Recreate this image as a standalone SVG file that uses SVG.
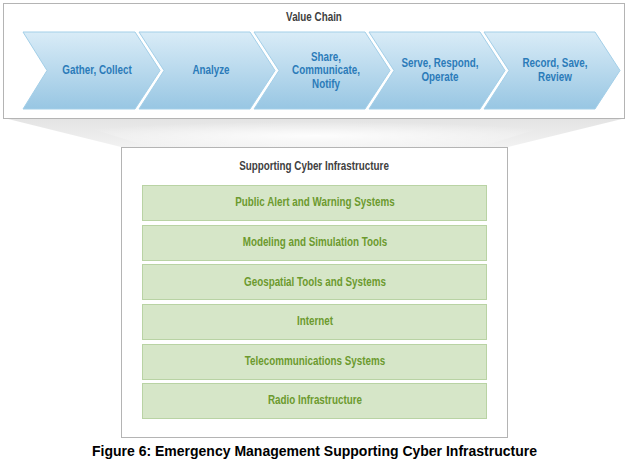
<svg xmlns="http://www.w3.org/2000/svg" width="633" height="459" viewBox="0 0 633 459">
  <defs>
    <linearGradient id="chev" x1="0" y1="0" x2="0" y2="1">
      <stop offset="0" stop-color="#d9ecf7"/>
      <stop offset="1" stop-color="#98c6e3"/>
    </linearGradient>
    <linearGradient id="shadow" x1="0" y1="0" x2="0" y2="1">
      <stop offset="0" stop-color="#e4e4e4"/>
      <stop offset="1" stop-color="#f2f2f2"/>
    </linearGradient>
    <radialGradient id="shadowHi" cx="0.5" cy="0.6" r="0.5">
      <stop offset="0" stop-color="#ffffff" stop-opacity="0.9"/>
      <stop offset="1" stop-color="#ffffff" stop-opacity="0"/>
    </radialGradient>
    <style>
      .frame { fill: #ffffff; stroke: #b4b4b4; stroke-width: 1; }
      .chev { fill: url(#chev); stroke: #a3cfe8; stroke-width: 1; }
      .bar { fill: #d6e6c8; stroke: #b9d3a4; stroke-width: 1; }
      .t { font-family: "Liberation Sans", Arial, sans-serif; font-weight: bold; font-size: 12px; text-anchor: middle; }
      .title { fill: #404040; }
      .blue { fill: #2b7bb9; }
      .green { fill: #6c9a2e; }
      .cap { font-family: "Liberation Sans", Arial, sans-serif; font-weight: bold; font-size: 14px; text-anchor: middle; fill: #000000; }
    </style>
  </defs>

  <!-- shadow funnel between boxes -->
  <polygon points="8,119 622,119 508,147 121,147" fill="url(#shadow)"/>
  <polygon points="60,119 570,119 480,147 150,147" fill="url(#shadowHi)"/>

  <g id="value-chain">
    <rect class="frame" x="3.5" y="3.5" width="621" height="115"/>
    <text class="t title" transform="translate(314,21) scale(0.82,1)">Value Chain</text>
  </g>

  <g id="gather">
    <polygon class="chev" points="23,32 135,32 160,70.5 135,109 23,109 47,70.5"/>
    <text class="t blue" transform="translate(97,74) scale(0.82,1)">Gather, Collect</text>
  </g>
  <g id="analyze">
    <polygon class="chev" points="139,32 250,32 275,70.5 250,109 139,109 164,70.5"/>
    <text class="t blue" transform="translate(211,74) scale(0.82,1)">Analyze</text>
  </g>
  <g id="share">
    <polygon class="chev" points="254,32 365,32 390,70.5 365,109 254,109 279,70.5"/>
    <text class="t blue" transform="translate(326,60.5) scale(0.82,1)">Share,</text>
    <text class="t blue" transform="translate(326,74) scale(0.82,1)">Communicate,</text>
    <text class="t blue" transform="translate(326,87.5) scale(0.82,1)">Notify</text>
  </g>
  <g id="serve">
    <polygon class="chev" points="369,32 480,32 505,70.5 480,109 369,109 394,70.5"/>
    <text class="t blue" transform="translate(440,67) scale(0.82,1)">Serve, Respond,</text>
    <text class="t blue" transform="translate(440,81) scale(0.82,1)">Operate</text>
  </g>
  <g id="record">
    <polygon class="chev" points="484,32 595,32 620,70.5 595,109 484,109 509,70.5"/>
    <text class="t blue" transform="translate(555,67) scale(0.82,1)">Record, Save,</text>
    <text class="t blue" transform="translate(555,81) scale(0.82,1)">Review</text>
  </g>

  <g id="cyber-infrastructure">
    <rect class="frame" x="121.5" y="147.5" width="386" height="290"/>
    <text class="t title" transform="translate(314,170) scale(0.82,1)">Supporting Cyber Infrastructure</text>
  </g>

  <g id="public-alert">
    <rect class="bar" x="142.5" y="185.5" width="344" height="35"/>
    <text class="t green" transform="translate(315,206) scale(0.82,1)">Public Alert and Warning Systems</text>
  </g>
  <g id="modeling">
    <rect class="bar" x="142.5" y="225.5" width="344" height="35"/>
    <text class="t green" transform="translate(315,246) scale(0.82,1)">Modeling and Simulation Tools</text>
  </g>
  <g id="geospatial">
    <rect class="bar" x="142.5" y="264.5" width="344" height="35"/>
    <text class="t green" transform="translate(315,285.5) scale(0.82,1)">Geospatial Tools and Systems</text>
  </g>
  <g id="internet">
    <rect class="bar" x="142.5" y="304.5" width="344" height="35"/>
    <text class="t green" transform="translate(315,325) scale(0.82,1)">Internet</text>
  </g>
  <g id="telecom">
    <rect class="bar" x="142.5" y="344.5" width="344" height="35"/>
    <text class="t green" transform="translate(315,365) scale(0.82,1)">Telecommunications Systems</text>
  </g>
  <g id="radio">
    <rect class="bar" x="142.5" y="383.5" width="344" height="35"/>
    <text class="t green" transform="translate(315,404) scale(0.82,1)">Radio Infrastructure</text>
  </g>

  <g id="connectors"></g>

  <text class="cap" x="314.5" y="455.5">Figure 6: Emergency Management Supporting Cyber Infrastructure</text>
</svg>
